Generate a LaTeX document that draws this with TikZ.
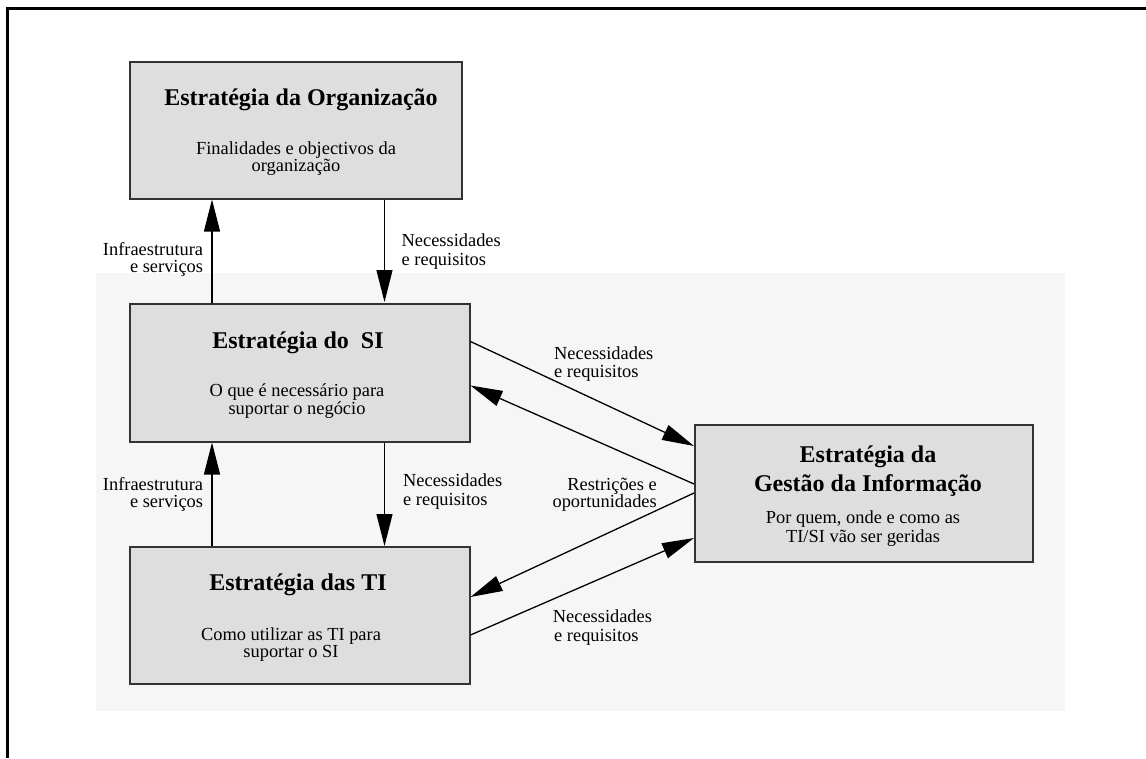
\documentclass[tikz,border=0pt]{standalone}
\usepackage{fontspec}
\setmainfont{Liberation Serif}
\usetikzlibrary{arrows.meta}
\definecolor{panelgray}{HTML}{F6F6F6}
\definecolor{boxgray}{HTML}{DEDEDE}
\definecolor{edgegray}{HTML}{333333}
\tikzset{
  stratbox/.style={draw=edgegray, line width=1.5pt, fill=boxgray, inner sep=0pt,
    anchor=north west},
  conn/.style={line width=1.3pt, -{Triangle[length=32pt,width=16pt]}},
  ttl/.style={font=\fontsize{24}{29}\selectfont\bfseries, inner sep=0pt, anchor=base},
  txt/.style={font=\fontsize{18.4}{18}\selectfont, inner sep=0pt, anchor=base},
  lblL/.style={txt, anchor=base west},
  lblR/.style={txt, anchor=base east},
}
\begin{document}
\begin{tikzpicture}[x=1pt,y=-1pt]
\useasboundingbox (0,0) rectangle (1146,758);
% page frame (top and left rules)
\draw[line width=3pt] (7.5,758) -- (7.5,8.5) -- (1146,8.5);
% shaded region behind the lower strategies
\fill[panelgray] (96,273) rectangle (1065,711);

% strategy boxes
\node[stratbox, minimum width=332pt, minimum height=137pt] (org) at (129,61) {};
\node[stratbox, minimum width=340pt, minimum height=138pt] (si) at (129,303) {};
\node[stratbox, minimum width=340pt, minimum height=137pt] (ti) at (129,546) {};
\node[stratbox, minimum width=338pt, minimum height=137pt] (gi) at (694,424) {};

% vertical flows
\draw[conn] ([xshift=83pt]si.north west) -- ([xshift=83pt]org.south west);
\draw[conn] ([xshift=255.5pt]org.south west) -- ([xshift=255.5pt,yshift=1pt]si.north west);
\draw[conn] ([xshift=83pt]ti.north west) -- ([xshift=83pt]si.south west);
\draw[conn] ([xshift=255.5pt]si.south west) -- ([xshift=255.5pt]ti.north west);

% flows to and from the information management strategy
\draw[conn] ([yshift=-38.5pt]si.north east) -- ([yshift=-22pt]gi.north west);
\draw[conn] ([yshift=-60pt]gi.north west) -- ([yshift=-82.5pt]si.north east);
\draw[conn] ([yshift=-69pt]gi.north west) -- ([yshift=-51pt]ti.north east);
\draw[conn] ([yshift=-89pt]ti.north east) -- ([yshift=-114pt]gi.north west);

% box texts
\node[ttl] (orgT) at (301,105.7) {Estratégia da Organização};
\node[txt] (orgB1) at (296,154.3) {Finalidades e objectivos da};
\node[txt] (orgB2) at (296,171.5) {organização};

\node[ttl] (siT) at (298,348.3) {Estratégia do\ \ SI};
\node[txt] (siB1) at (297,396.7) {O que é necessário para};
\node[txt] (siB2) at (297,414) {suportar o negócio};

\node[ttl] (tiT) at (298,590.7) {Estratégia das TI};
\node[txt] (tiB1) at (291,640) {Como utilizar as TI para};
\node[txt] (tiB2) at (291,657.3) {suportar o SI};

\node[ttl] (giT1) at (868,462.7) {Estratégia da};
\node[ttl] (giT2) at (868,491.7) {Gestão da Informação};
\node[txt] (giB1) at (863,523.3) {Por quem, onde e como as};
\node[txt] (giB2) at (863,542.3) {TI/SI vão ser geridas};

% connector labels
\node[lblR] (l1a) at (203.3,255) {Infraestrutura};
\node[lblR] (l1b) at (203.3,272.5) {e serviços};
\node[lblL] (l2a) at (401.5,246.7) {Necessidades};
\node[lblL] (l2b) at (401.5,265) {e requisitos};
\node[lblR] (l3a) at (203.3,490) {Infraestrutura};
\node[lblR] (l3b) at (203.3,507.5) {e serviços};
\node[lblL] (l4a) at (403,486.7) {Necessidades};
\node[lblL] (l4b) at (403,505) {e requisitos};
\node[lblL] (l5a) at (554,359) {Necessidades};
\node[lblL] (l5b) at (554,377) {e requisitos};
\node[lblR] (l6a) at (657,490) {Restrições e};
\node[lblR] (l6b) at (657,507.7) {oportunidades};
\node[lblL] (l7a) at (552.7,622.7) {Necessidades};
\node[lblL] (l7b) at (554,641.7) {e requisitos};
\end{tikzpicture}
\end{document}
